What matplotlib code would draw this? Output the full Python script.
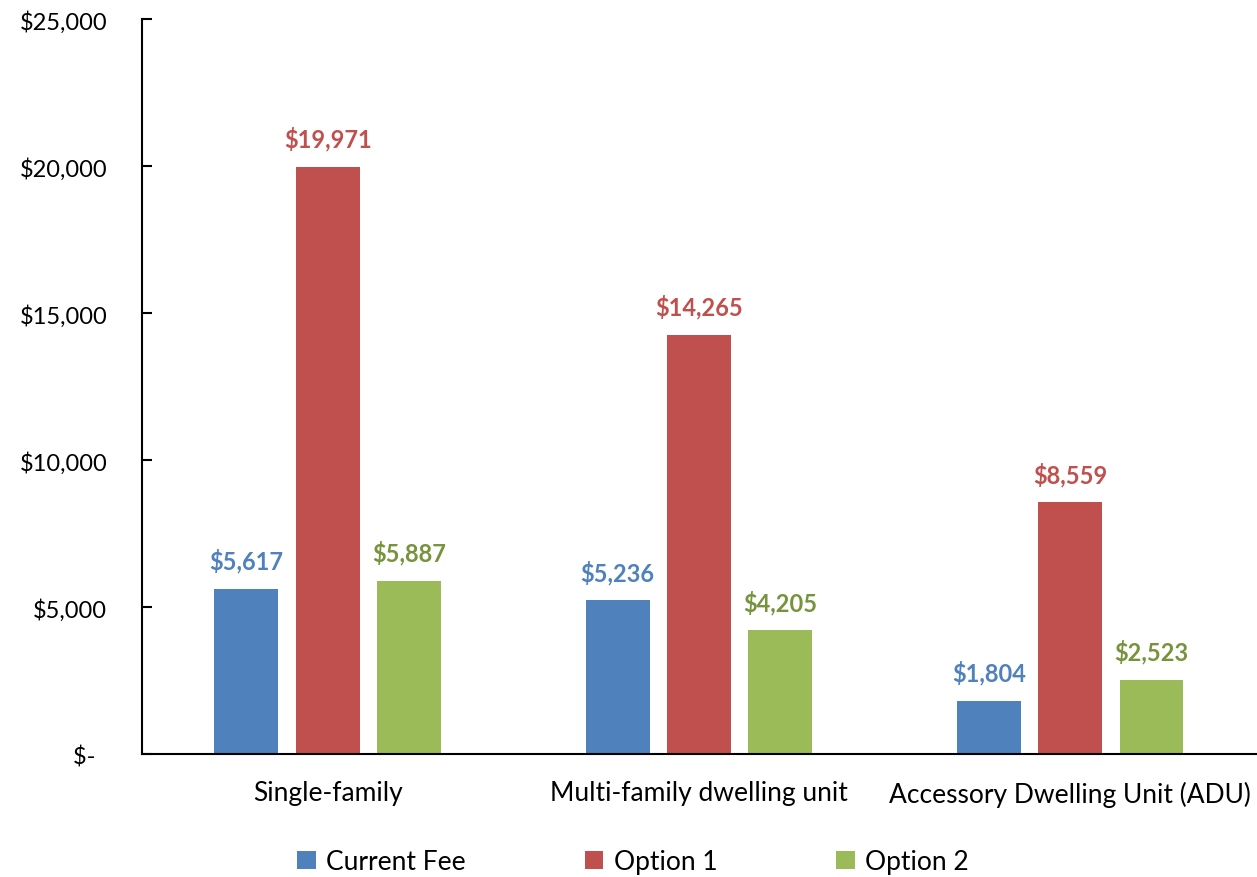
import numpy as np
import matplotlib.pyplot as plt
from matplotlib.ticker import FuncFormatter

# Chart data
categories = ['Single-family', 'Multi-family dwelling unit', 'Accessory Dwelling Unit (ADU)']
series_names = ['Current Fee', 'Option 1', 'Option 2']
current_fee = [5617, 5236, 1804]
option_1 = [19971, 14265, 8559]
option_2 = [5887, 4205, 2523]

bar_colors = ['#4F81BD', '#C0504D', '#9BBB59']
label_colors = ['#4F81BD', '#C0504D', '#77933C']

plt.rcParams['font.family'] = ['Lato', 'DejaVu Sans']

fig = plt.figure(figsize=(12.57, 8.78), dpi=100)
ax = fig.add_axes([0.113, 0.140, 0.886, 0.837])

x = np.arange(len(categories))
width = 0.172
step = 0.219

for i, (vals, name) in enumerate(zip([current_fee, option_1, option_2], series_names)):
    pos = x + (i - 1) * step
    ax.bar(pos, vals, width, color=bar_colors[i], label=name)
    for px, v in zip(pos, vals):
        ax.text(px, v + 550, f'${v:,}', ha='center', va='bottom',
                fontsize=17, fontweight='bold', color=label_colors[i])

ax.set_xlim(-0.5, 2.5)
ax.set_ylim(0, 25000)
ax.set_yticks(range(0, 25001, 5000))
ax.yaxis.set_major_formatter(FuncFormatter(lambda v, p: '$-  ' if v == 0 else f'${v:,.0f}'))
ax.set_xticks(x)
ax.set_xticklabels(categories)

ax.spines['top'].set_visible(False)
ax.spines['right'].set_visible(False)
ax.spines['left'].set_linewidth(1.5)
ax.spines['bottom'].set_linewidth(1.5)
ax.tick_params(axis='y', direction='in', length=7, width=1.5, labelsize=17, pad=25)
ax.tick_params(axis='x', length=0, labelsize=19, pad=19)

ax.legend(loc='upper center', bbox_to_anchor=(0.441, -0.097), ncol=3, frameon=False,
          fontsize=19, handlelength=0.7, handleheight=0.7, columnspacing=4.5, handletextpad=0.4)

fig.savefig('out.png', dpi=100)
